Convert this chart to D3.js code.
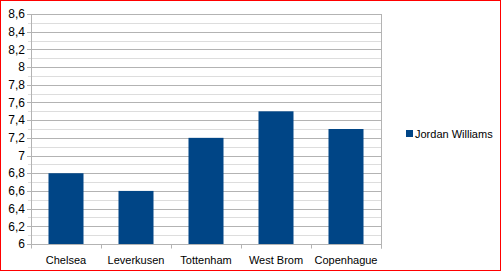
<!DOCTYPE html>
<html>
<head>
<meta charset="utf-8">
<script src="https://cdn.jsdelivr.net/npm/d3@7"></script>
<style>
body { margin: 0; background: #fff; }
svg { display: block; font-family: "Liberation Sans", Arial, sans-serif; }
</style>
</head>
<body>
<div id="chart"></div>
<script>
// data
const teams = ["Chelsea", "Leverkusen", "Tottenham", "West Brom", "Copenhague"];
const ratings = [6.8, 6.6, 7.2, 7.5, 7.3];
const seriesName = "Jordan Williams";
const yTicks = [6, 6.2, 6.4, 6.6, 6.8, 7, 7.2, 7.4, 7.6, 7.8, 8, 8.2, 8.4, 8.6];

const width = 502, height = 273;
const margin = {top: 14, left: 31, right: 121, bottom: 29};

const svg = d3.select("#chart").append("svg")
    .attr("width", width)
    .attr("height", height);

// red frame
svg.append("rect")
    .attr("x", 0.5).attr("y", 0.5)
    .attr("width", 500).attr("height", 270)
    .attr("fill", "none")
    .attr("stroke", "#ff0000")
    .attr("stroke-width", 1);

const x = d3.scaleBand()
    .domain(teams)
    .range([margin.left, width - margin.right])
    .paddingInner(0.5)
    .paddingOuter(0.25);

const y = d3.scaleLinear()
    .domain([6, 8.6])
    .range([height - margin.bottom, margin.top]);

// minor gridlines every 0.1
const minor = d3.range(61, 86, 2).map(d => d / 10);
svg.append("g").selectAll("line")
    .data(minor)
    .enter().append("line")
    .attr("x1", margin.left - 3).attr("x2", width - margin.right)
    .attr("y1", d => Math.round(y(d)) + 0.5)
    .attr("y2", d => Math.round(y(d)) + 0.5)
    .attr("stroke", "#dddddd");

// major gridlines
svg.append("g").selectAll("line")
    .data(yTicks)
    .enter().append("line")
    .attr("x1", margin.left - 4).attr("x2", width - margin.right)
    .attr("y1", d => Math.round(y(d)) + 0.5)
    .attr("y2", d => Math.round(y(d)) + 0.5)
    .attr("stroke", "#b3b3b3");

// bars
svg.append("g").selectAll("rect")
    .data(teams)
    .enter().append("rect")
    .attr("x", d => x(d))
    .attr("width", x.bandwidth())
    .attr("y", (d, i) => y(ratings[i]))
    .attr("height", (d, i) => y(6) - y(ratings[i]))
    .attr("fill", "#004586");

// axis lines
const x0 = margin.left, x1 = width - margin.right, yb = Math.round(y(6)) + 0.5;
svg.append("line")
    .attr("x1", x0 + 0.5).attr("x2", x0 + 0.5)
    .attr("y1", margin.top).attr("y2", yb)
    .attr("stroke", "#b3b3b3");
svg.append("line")
    .attr("x1", x1 + 0.5).attr("x2", x1 + 0.5)
    .attr("y1", margin.top).attr("y2", yb + 4)
    .attr("stroke", "#b3b3b3");

// category boundary ticks
const step = x.step();
svg.append("g").selectAll("line")
    .data(d3.range(teams.length + 1))
    .enter().append("line")
    .attr("x1", i => Math.round(x0 + i * step) + 0.5)
    .attr("x2", i => Math.round(x0 + i * step) + 0.5)
    .attr("y1", yb).attr("y2", yb + 4)
    .attr("stroke", "#b3b3b3");

// y tick labels
svg.append("g").selectAll("text")
    .data(yTicks)
    .enter().append("text")
    .attr("x", margin.left - 6)
    .attr("y", d => y(d))
    .attr("dy", "0.35em")
    .attr("text-anchor", "end")
    .attr("font-size", 12)
    .attr("fill", "#000")
    .text(d => d3.format(".1~f")(d).replace(".", ","));

// x labels
svg.append("g").selectAll("text")
    .data(teams)
    .enter().append("text")
    .attr("x", d => x(d) + x.bandwidth() / 2)
    .attr("y", 263.5)
    .attr("text-anchor", "middle")
    .attr("font-size", 11)
    .attr("fill", "#000")
    .text(d => d);

// legend
svg.append("rect")
    .attr("x", 406).attr("y", 130)
    .attr("width", 7).attr("height", 7)
    .attr("fill", "#004586");
svg.append("text")
    .attr("x", 415).attr("y", 137.5)
    .attr("font-size", 11)
    .attr("fill", "#000")
    .text(seriesName);
</script>
</body>
</html>
